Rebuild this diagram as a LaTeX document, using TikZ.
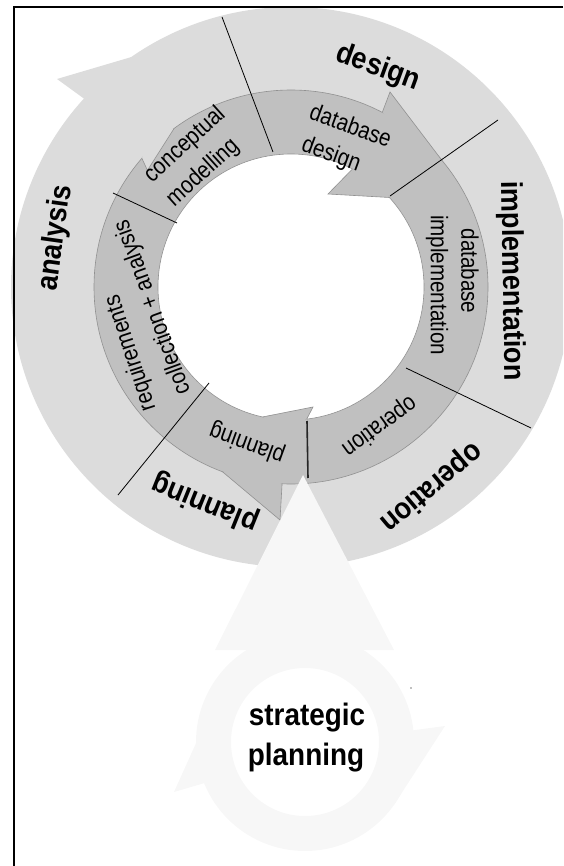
\documentclass[tikz,border=0pt]{standalone}
\usepackage{fontspec}
\setmainfont{Liberation Sans}[FakeStretch=0.9]
\newfontfamily\narrowfont{Liberation Sans}[FakeStretch=0.86]
\usetikzlibrary{calc}
\definecolor{ringlight}{RGB}{220,220,220}
\definecolor{ringdark}{RGB}{192,192,192}
\definecolor{ringedge}{RGB}{145,145,145}
\definecolor{pale}{RGB}{247,247,247}
\begin{document}
\begin{tikzpicture}[x=1pt,y=-1pt,
  lab/.style={inner sep=0pt, text=black},
  big/.style={lab, font=\fontsize{30}{30}\selectfont\bfseries},
  small/.style={lab, font=\narrowfont\fontsize{24}{24}\selectfont},
  bline/.style={black, line width=0.8pt},
  rimedge/.style={ringedge, line width=0.6pt}]
\useasboundingbox (0,0) rectangle (563,866);
\clip (0,0) rectangle (563,866);
\coordinate (C) at (291,287);
\coordinate (S) at (305,742);

% outer ring (light)
\fill[ringlight] (C) circle[radius=280];
% outer barb of the analysis arrowhead
\fill[ringlight] ($(C)+(222.3:280)$) -- (57,79) -- ($(C)+(235.2:280)$) -- ($(C)+(229:270)$) -- cycle;

% inner ring (dark) and hole
\filldraw[fill=ringdark, draw=ringedge, line width=0.6pt] (C) circle[radius=197];
\filldraw[fill=white, draw=ringedge, line width=0.6pt] (C) circle[radius=133];

% inner barb of the analysis arrowhead (light notch in dark ring)
\fill[ringlight] ($(C)+(220.8:197)$) -- ($(C)+(219.1:185)$) -- ($(C)+(233.6:197)$) -- ($(C)+(227:205)$) -- cycle;
\draw[rimedge] ($(C)+(220.8:197)$) -- ($(C)+(219.1:185)$) -- ($(C)+(233.6:197)$);

% database design arrowhead barbs
\fill[ringdark] ($(C)+(-62.4:197)$) -- (390,92) -- ($(C)+(-39.8:197)$) -- ($(C)+(-51:189)$) -- cycle;
\draw[rimedge] ($(C)+(-62.4:197)$) -- (390,92) -- ($(C)+(-39.8:197)$);
\fill[ringdark] ($(C)+(-62.5:133)$) -- (328,194) -- ($(C)+(-42.3:133)$) -- ($(C)+(-52:141)$) -- cycle;
\draw[rimedge] ($(C)+(-62.5:133)$) -- (328,194) -- ($(C)+(-42.3:133)$);

% planning arrowhead barbs
\fill[ringdark] ($(C)+(102.3:133)$) -- (313,407) -- ($(C)+(83.2:133)$) -- ($(C)+(92.7:141)$) -- cycle;
\draw[rimedge] ($(C)+(102.3:133)$) -- (313,407) -- ($(C)+(83.2:133)$);
\fill[ringdark] ($(C)+(110.4:197)$) -- (280,520) -- ($(C)+(92.6:197)$) -- ($(C)+(101.5:189)$) -- cycle;
\draw[rimedge] ($(C)+(110.4:197)$) -- (280,520) -- ($(C)+(92.6:197)$);

% segment boundaries
\coordinate (l1a) at (222,17);  \coordinate (l1b) at (273,152);
\coordinate (l2a) at (390,196); \coordinate (l2b) at (498,120);
\coordinate (l3a) at (113,193); \coordinate (l3b) at (177,223);
\coordinate (l4a) at (209,383); \coordinate (l4b) at (118,495);
\coordinate (l5a) at (406,368); \coordinate (l5b) at (531,428);
\coordinate (l6a) at (307,421); \coordinate (l6b) at (308,478);
\draw[bline] (l1a) -- (l1b);
\draw[bline] (l2a) -- (l2b);
\draw[bline] (l3a) -- (l3b);
\draw[bline] (l4a) -- (l4b);
\draw[bline] (l5a) -- (l5b);
\draw[black!85, line width=1.6pt] (l6a) -- (l6b);

% strategic planning (pale)
\fill[pale, even odd rule] (S) circle[radius=109] (S) circle[radius=74];
\fill[pale] (303,475) -- (215,650) -- (394,650) -- cycle;
\fill[pale] ($(S)+(179.4:109)$) -- (174,792) -- ($(S)+(157.8:109)$) -- ($(S)+(168:100)$) -- cycle;
\fill[pale] ($(S)+(-6.2:109)$) -- (445,726) -- ($(S)+(35.8:109)$) -- ($(S)+(15:100)$) -- cycle;
\fill[gray] (411,688) circle[radius=0.8];

% border
\draw[line width=2.2pt] (563,7) -- (14,7) -- (14,866);

% outer labels
\node[big, rotate=-20] (tdesign) at (378,68) {design};
\node[big, rotate=82] (tanalysis) at (56,238) {analysis};
\node[big, rotate=-89] (timpl) at (511,281) {implementation};
\node[big, rotate=-140] (toper) at (431,487) {operation};
\node[big, rotate=158] (tplan) at (205,503) {planning};

% inner labels
\node[small, rotate=42] (tcon1) at (185,145) {conceptual};
\node[small, rotate=42] (tcon2) at (203,173) {modelling};
\node[small, rotate=-20] (tdd1) at (351,125) {database};
\node[small, rotate=-20] (tdd2) at (331,155) {design};
\node[small, rotate=-90] (tdi1) at (470,271) {database};
\node[small, rotate=-90] (tdi2) at (437,285) {implementation};
\node[small, rotate=-144] (tiop) at (379,426) {operation};
\node[small, rotate=160] (tipl) at (247,443) {planning};
\node[small, rotate=108] (treq1) at (131,353) {requirements};
\node[small, rotate=110] (treq2) at (153,307) {collection + analysis};

% strategic planning label
\node[big, font=\fontsize{31}{31}\selectfont\bfseries] (tstrat1) at (307,718) {strategic};
\node[big, font=\fontsize{31}{31}\selectfont\bfseries] (tstrat2) at (306,758) {planning};
\end{tikzpicture}
\end{document}
